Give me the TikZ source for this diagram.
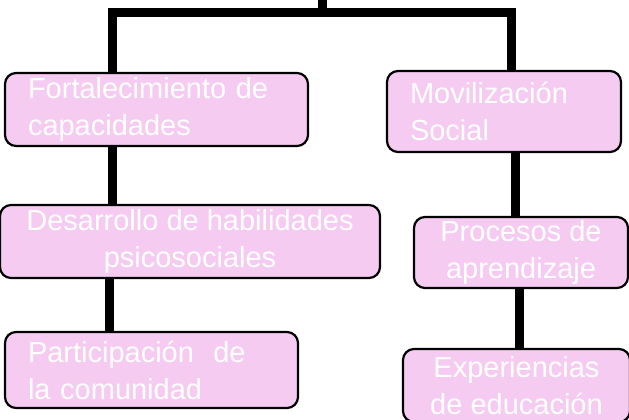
\documentclass[tikz,border=0pt]{standalone}
\usepackage{fontspec}
\setmainfont{Liberation Sans}
\usetikzlibrary{positioning}
\definecolor{boxpink}{HTML}{F5CBF2}

\begin{document}
\begin{tikzpicture}[x=1pt, y=-1pt,
  box/.style={draw, line width=2.2pt, rounded corners=11pt, fill=boxpink,
    text=white, inner xsep=23pt, inner ysep=0pt,
    font=\fontsize{29}{37}\selectfont},
  link/.style={line width=9pt, miter limit=10}]
\useasboundingbox (0,0) rectangle (629,420);

\coordinate (root) at (322,0);
\coordinate (hub) at (322,13);
\coordinate (stemL) at (112,13);
\coordinate (stemR) at (511,13);
\coordinate (stemLa) at (112,0);
\coordinate (stemLb) at (109,0);
\coordinate (stemRa) at (515,0);
\coordinate (stemRb) at (519,0);

\node [box, minimum width=303pt, minimum height=73pt, text width=257pt, align=left]
  (fort) at (156.5,109.5) {Fortalecimiento de\\capacidades};
\node [box, minimum width=234pt, minimum height=81pt, text width=188pt, align=left]
  (mov) at (504,111.5) {Movilización\\Social};
\node [box, minimum width=380pt, minimum height=73pt, align=center]
  (desa) at (190,241.5) {Desarrollo de habilidades\\psicosociales};
\node [box, minimum width=293pt, minimum height=76pt, text width=247pt, align=left]
  (part) at (151.5,370) {Participación \ de\\la comunidad};
\node [box, minimum width=214pt, minimum height=71pt, align=center]
  (proc) at (521,252.5) {Procesos de\\aprendizaje};
\node [box, minimum width=227pt, minimum height=73pt, align=center]
  (exp) at (516.5,385.5) {Experiencias\\de educación};

\draw [link] (root) -- (hub);
\draw [link] (stemL |- fort.north) -- (stemL) -- (stemR) -- (stemR |- mov.north);
\draw [link] (stemLa |- fort.south) -- (stemLa |- desa.north);
\draw [link] (stemLb |- desa.south) -- (stemLb |- part.north);
\draw [link] (stemRa |- mov.south) -- (stemRa |- proc.north);
\draw [link] (stemRb |- proc.south) -- (stemRb |- exp.north);
\end{tikzpicture}
\end{document}
